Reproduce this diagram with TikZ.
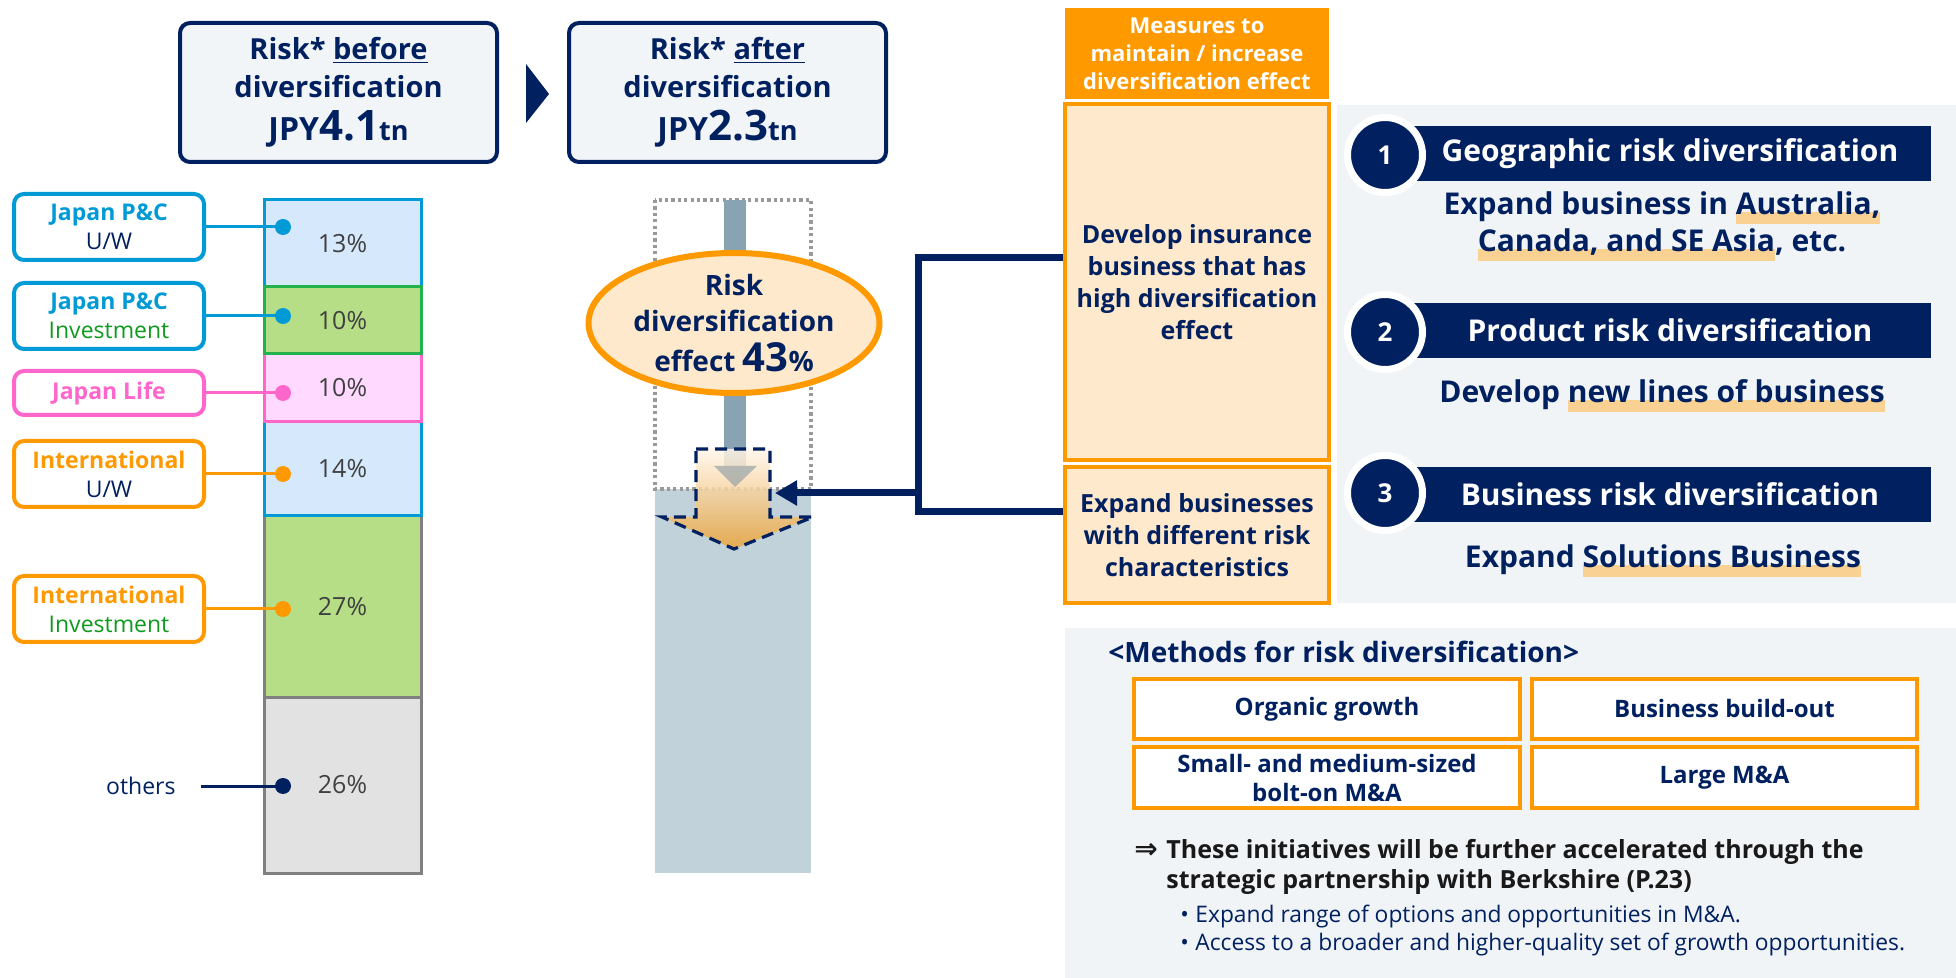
\documentclass[tikz,border=0pt]{standalone}
\usepackage{fontspec}
\setmainfont{Open Sans}
\newfontfamily\symfont{DejaVu Sans}
\usepackage{xcolor}
\usetikzlibrary{arrows.meta,positioning,shapes.geometric}
\definecolor{navy}{HTML}{002060}
\definecolor{orng}{HTML}{FF9900}
\definecolor{deeporng}{HTML}{EBA338}
\definecolor{peach}{HTML}{FFE9CC}
\definecolor{hlc}{HTML}{F8D193}
\definecolor{panel}{HTML}{F1F4F6}
\definecolor{titlefill}{HTML}{F2F5F7}
\definecolor{pcblue}{HTML}{009AD6}
\definecolor{skyfill}{HTML}{D5E8FC}
\definecolor{grnfill}{HTML}{B5DE86}
\definecolor{grnline}{HTML}{22B14C}
\definecolor{grntext}{HTML}{0F9A1E}
\definecolor{lifepink}{HTML}{FF66CC}
\definecolor{pinkfill}{HTML}{FFD9FF}
\definecolor{greyfill}{HTML}{E2E2E2}
\definecolor{greyline}{HTML}{808080}
\definecolor{dotgrey}{HTML}{999999}
\definecolor{pcttext}{HTML}{404040}
\definecolor{shaftgrey}{HTML}{89A3B2}
\definecolor{lowfill}{HTML}{C1D2DA}
\newsavebox\hlbox
\newcommand\hlite[1]{\sbox\hlbox{#1}\rlap{\textcolor{hlc}{\rule[-0.32em]{\wd\hlbox}{0.4em}}}\usebox\hlbox}
\tikzset{
  titleBox/.style={draw=navy, line width=2pt, rounded corners=5pt, fill=titlefill, text=navy, align=center,
    font=\fontsize{14.5}{19}\selectfont\bfseries, minimum width=158.5pt, minimum height=69.5pt, inner sep=0pt},
  labBox/.style={draw=#1, line width=2pt, rounded corners=5pt, fill=white, align=center,
    minimum width=95pt, minimum height=33pt, font=\fontsize{11.5}{14.5}\selectfont, inner sep=0pt},
  segBox/.style 2 args={draw=#1, fill=#2, line width=1.5pt, minimum width=78.5pt, text=pcttext,
    font=\fontsize{12.5}{15}\selectfont, inner sep=0pt},
  dotMark/.style={circle, fill=#1, minimum size=8pt, inner sep=0pt},
  leadLine/.style={draw=#1, line width=1.5pt},
  linkLine/.style={draw=navy, line width=3.5pt},
  measBox/.style={draw=orng, line width=2pt, fill=peach, text=navy, align=center,
    font=\fontsize{12.5}{16}\selectfont\bfseries, minimum width=132pt, inner sep=0pt},
  banner/.style={fill=navy, text=white, font=\fontsize{15}{18}\selectfont\bfseries,
    minimum width=260.5pt, minimum height=27.5pt, inner sep=0pt},
  numDot/.style={circle, fill=navy, draw=white, line width=3.5pt, minimum size=37.5pt, text=white,
    font=\fontsize{13}{15}\selectfont\bfseries, inner sep=0pt},
  subText/.style={text=navy, align=center, font=\fontsize{15}{18.5}\selectfont\bfseries, inner sep=0pt},
  methBox/.style={draw=orng, line width=2pt, fill=white, text=navy, align=center,
    font=\fontsize{12}{14.5}\selectfont\bfseries, minimum width=193pt, minimum height=30pt, inner sep=0pt}
}
\begin{document}
\begin{tikzpicture}[x=0.5pt, y=-0.5pt]
\useasboundingbox (0,0) rectangle (1956,978);

% before / after
\node[titleBox] (before) at (338.5,92.5) {Risk* \underline{before}\\diversification\\[2.5pt]{\fontsize{16}{19}\selectfont JPY}{\fontsize{21}{19}\selectfont 4.1}{\fontsize{13.5}{19}\selectfont tn}};
\node[titleBox] (after) at (727.5,92.5) {Risk* \underline{after}\\diversification\\[2.5pt]{\fontsize{16}{19}\selectfont JPY}{\fontsize{21}{19}\selectfont 2.3}{\fontsize{13.5}{19}\selectfont tn}};
\fill[navy] (526,64) -- (549,94) -- (526,123) -- cycle;

% stacked bar
\node[segBox={greyline}{greyfill}, minimum height=88pt] (s26) at (342.5,785) {26\%};
\node[segBox={greyline}{grnfill}, minimum height=90.5pt] (s27) at (342.5,606.5) {27\%};
\node[segBox={pcblue}{skyfill}, minimum height=47pt] (s14) at (342.5,469) {14\%};
\node[segBox={lifepink}{pinkfill}, minimum height=34pt] (sLife) at (342.5,388) {10\%};
\node[segBox={pcblue}{skyfill}, minimum height=43.5pt] (s13) at (342.5,243.5) {13\%};
\node[segBox={grnline}{grnfill}, minimum height=33.5pt] (sInv) at (342.5,320.5) {10\%};

\node[labBox=pcblue] (pcUW) at (109,227) {\textcolor{pcblue}{\bfseries Japan P\&C}\\\textcolor{navy}{U/W}};
\node[labBox=pcblue] (pcInv) at (109,316) {\textcolor{pcblue}{\bfseries Japan P\&C}\\\textcolor{grntext}{Investment}};
\node[labBox=lifepink, minimum height=22pt] (life) at (109,393) {\textcolor{lifepink}{\bfseries Japan Life}};
\node[labBox=orng] (intUW) at (109,474) {\textcolor{orng}{\bfseries International}\\\textcolor{navy}{U/W}};
\node[labBox=orng] (intInv) at (109,609) {\textcolor{orng}{\bfseries International}\\\textcolor{grntext}{Investment}};
\node[text=navy, font=\fontsize{11.5}{14}\selectfont, anchor=east, inner sep=0pt] (oth) at (176,786) {others};

\node[dotMark=pcblue] (d1) at (283,227) {};
\node[dotMark=pcblue] (d2) at (283,316) {};
\node[dotMark=lifepink] (d3) at (283,393) {};
\node[dotMark=orng] (d4) at (283,474) {};
\node[dotMark=orng] (d5) at (283,609) {};
\node[dotMark=navy] (d6) at (283,786) {};
\draw[leadLine=pcblue] (pcUW.east) -- (d1.center);
\draw[leadLine=pcblue] (pcInv.east) -- (d2.center);
\draw[leadLine=lifepink] (life.east) -- (d3.center);
\draw[leadLine=orng] (intUW.east) -- (d4.center);
\draw[leadLine=orng] (intInv.east) -- (d5.center);
\draw[leadLine=navy] ([xshift=12.5pt]oth.east) -- (d6.center);

% after-diversification column
\fill[lowfill] (655,489) rectangle (811,873);
\draw[dotgrey, line width=1.6pt, dash pattern=on 1.6pt off 1.6pt] (655,200) rectangle (811,489);
\fill[shaftgrey] (724,200) rectangle (746,466);
\node[ellipse, draw=orng, line width=3pt, fill=peach, minimum width=145.5pt, minimum height=70pt, inner sep=0pt,
  text=navy, align=center, font=\fontsize{14}{18}\selectfont\bfseries] (eff) at (734,323)
  {Risk\\diversification\\[2pt]effect {\fontsize{20}{22}\selectfont 43}\%};
\path[top color=peach!40!white, bottom color=deeporng, fill opacity=0.85]
  (696,449) -- (770,449) -- (770,517) -- (813,517) -- (734,549) -- (662,517) -- (696,517) -- cycle;
\fill[shaftgrey!70!gray, opacity=0.6] (714,466) -- (757,466) -- (735,487) -- cycle;
\draw[navy, line width=1.6pt, dash pattern=on 6pt off 3.5pt]
  (696,449) -- (770,449) -- (770,517) -- (813,517) -- (734,549) -- (662,517) -- (696,517) -- cycle;

% measures
\node[fill=orng, text=white, align=center, font=\fontsize{11}{14}\selectfont\bfseries,
  minimum width=132pt, minimum height=45.5pt, inner sep=0pt] (meas) at (1197,53.5)
  {Measures to\\maintain / increase\\diversification effect};
\node[measBox, minimum height=178pt] (box1) at (1197,282) {Develop insurance\\business that has\\high diversification\\effect};
\node[measBox, minimum height=68pt] (box2) at (1197,535) {Expand businesses\\with different risk\\characteristics};

\coordinate (bktTop) at (918,258);
\coordinate (bktBot) at (918,512);
\coordinate (bktArr) at (918,493);
\coordinate (arrTip) at (775,493);
\draw[linkLine] (box1.west |- bktTop) -- (bktTop) -- (bktBot) -- (box2.west |- bktBot);
\draw[linkLine, -{Triangle[length=11pt,width=12pt]}] (bktArr) -- (arrTip);

% three diversification types
\fill[panel] (1337,105) rectangle (1956,603);
\node[banner] (geo) at (1670,153.5) {Geographic risk diversification};
\node[numDot] (n1) at (1385,155) {1};
\node[subText] (geoTxt) at (1662,226) {Expand business in \hlite{Australia,}\\\hlite{Canada, and SE Asia}, etc.};
\node[banner] (prod) at (1670,330.5) {Product risk diversification};
\node[numDot] (n2) at (1385,332) {2};
\node[subText] (prodTxt) at (1662,396) {Develop \hlite{new lines of business}};
\node[banner] (biz) at (1670,494.5) {Business risk diversification};
\node[numDot] (n3) at (1385,493) {3};
\node[subText] (bizTxt) at (1663,561) {Expand \hlite{Solutions Business}};

% methods
\fill[panel] (1065,628) rectangle (1956,978);
\node[anchor=west, inner sep=0pt, text=navy, font=\fontsize{14}{17}\selectfont\bfseries] (methHead) at (1108,652)
  {<Methods for risk diversification>};
\node[methBox] (organic) at (1327,709) {Organic growth};
\node[methBox, minimum width=192.5pt] (buildout) at (1724.5,709) {Business build-out};
\node[methBox, minimum height=30.5pt] (boltOn) at (1327,777.5) {Small- and medium-sized\\bolt-on M\&A};
\node[methBox, minimum width=192.5pt, minimum height=30.5pt] (largeMA) at (1724.5,777.5) {Large M\&A};
\node[anchor=west, inner sep=0pt, align=left, text=black!90, font=\fontsize{12.5}{15}\selectfont\bfseries] (accel) at (1134,867)
  {\makebox[16pt][l]{\symfont\bfseries\fontsize{14}{15}\selectfont ⇒}These initiatives will be further accelerated through the\\\hspace*{16pt}strategic partnership with Berkshire (P.23)};
\node[anchor=west, inner sep=0pt, align=left, text=navy, font=\fontsize{11.4}{14}\selectfont] (bul) at (1180,931)
  {\makebox[7.5pt][l]{•}Expand range of options and opportunities in M\&A.\\\makebox[7.5pt][l]{•}Access to a broader and higher-quality set of growth opportunities.};
\end{tikzpicture}
\end{document}
